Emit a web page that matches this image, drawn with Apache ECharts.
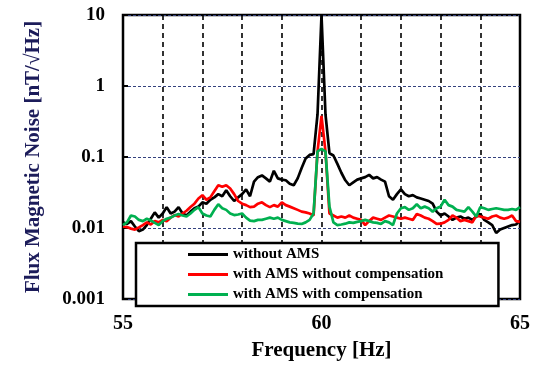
<!DOCTYPE html>
<html>
<head>
<meta charset="utf-8">
<script src="https://cdn.jsdelivr.net/npm/echarts@6/dist/echarts.min.js"></script>
<style>
  html, body { margin: 0; padding: 0; background: #fff; }
  #chart { width: 534px; height: 366px; }
</style>
</head>
<body>
<div id="chart"></div>
<script>
// frequency grid of the spectrum (Hz)
var freqStart = 55;
var freqStep = 0.1;

var seriesNames = ['without AMS', 'with AMS without compensation', 'with AMS with compensation'];
var seriesColors = ['#000000', '#ff0000', '#00b050'];

// nT/sqrt(Hz), one value per 0.1 Hz from 55 to 65
var withoutAms = [
  0.012, 0.0114, 0.0125, 0.0105, 0.009, 0.0095, 0.011, 0.0135, 0.0166, 0.014,
  0.016, 0.0197, 0.016, 0.017, 0.0197, 0.016, 0.015, 0.017, 0.019, 0.02,
  0.023, 0.022, 0.025, 0.027, 0.03, 0.028, 0.034, 0.028, 0.024, 0.027,
  0.03, 0.035, 0.028, 0.045, 0.052, 0.055, 0.05, 0.045, 0.064, 0.05,
  0.048, 0.047, 0.042, 0.04, 0.05, 0.07, 0.095, 0.107, 0.11, 0.4,
  10, 0.4, 0.113, 0.105, 0.08, 0.06, 0.047, 0.04, 0.044, 0.048,
  0.05, 0.052, 0.056, 0.05, 0.052, 0.048, 0.045, 0.028, 0.025, 0.03,
  0.035, 0.03, 0.028, 0.029, 0.027, 0.026, 0.025, 0.024, 0.022, 0.017,
  0.015, 0.016, 0.0145, 0.013, 0.014, 0.0145, 0.0135, 0.014, 0.013, 0.0145,
  0.0158, 0.013, 0.012, 0.011, 0.0085, 0.0095, 0.01, 0.0105, 0.011, 0.0112,
  0.0127
];
var withAmsNoComp = [
  0.0105, 0.0103, 0.0098, 0.0095, 0.0102, 0.011, 0.012, 0.0112, 0.0125, 0.012,
  0.013, 0.0125, 0.014, 0.0152, 0.0145, 0.016, 0.0175, 0.0197, 0.022, 0.026,
  0.029, 0.025, 0.027, 0.033, 0.04, 0.038, 0.04, 0.036, 0.03, 0.024,
  0.022, 0.021, 0.0197, 0.02, 0.022, 0.023, 0.021, 0.0197, 0.021, 0.02,
  0.023, 0.021, 0.02, 0.019, 0.018, 0.017, 0.0166, 0.016, 0.015, 0.12,
  0.38, 0.12, 0.016, 0.015, 0.014, 0.0145, 0.014, 0.015, 0.014, 0.0135,
  0.013, 0.011, 0.0125, 0.014, 0.0135, 0.013, 0.014, 0.015, 0.0145, 0.014,
  0.0135, 0.014, 0.0135, 0.013, 0.0158, 0.015, 0.014, 0.0135, 0.0125, 0.0114,
  0.0115, 0.012, 0.013, 0.015, 0.014, 0.0125, 0.013, 0.0125, 0.012, 0.015,
  0.0145, 0.014, 0.0135, 0.0145, 0.015, 0.014, 0.0135, 0.014, 0.015, 0.0125,
  0.0122
];
var withAmsComp = [
  0.011, 0.012, 0.015, 0.0145, 0.013, 0.0125, 0.0135, 0.0128, 0.0118, 0.011,
  0.0125, 0.0135, 0.014, 0.015, 0.0158, 0.015, 0.0145, 0.016, 0.018, 0.0197,
  0.016, 0.015, 0.0145, 0.018, 0.0216, 0.019, 0.018, 0.016, 0.0152, 0.0155,
  0.016, 0.014, 0.0127, 0.0125, 0.013, 0.013, 0.0135, 0.014, 0.0135, 0.014,
  0.013, 0.0125, 0.012, 0.0118, 0.0115, 0.0114, 0.012, 0.013, 0.016, 0.12,
  0.13, 0.12, 0.02, 0.012, 0.011, 0.0112, 0.0115, 0.012, 0.0118, 0.0122,
  0.0125, 0.013, 0.0125, 0.012, 0.0118, 0.0114, 0.0125, 0.012, 0.011, 0.016,
  0.019, 0.0197, 0.018, 0.019, 0.0216, 0.019, 0.02, 0.019, 0.017, 0.019,
  0.02, 0.025, 0.021, 0.02, 0.018, 0.0175, 0.017, 0.0197, 0.017, 0.0145,
  0.0197, 0.019, 0.018, 0.0185, 0.019, 0.0185, 0.018, 0.018, 0.0185, 0.018,
  0.0197
];

var xTickLabels = [55, 60, 65];
var yTickLabels = ['0.001', '0.01', '0.1', '1', '10'];

var serif = 'Liberation Serif';

function toPairs(values) {
  return values.map(function (v, i) {
    return [+(freqStart + i * freqStep).toFixed(1), v];
  });
}

var seriesData = [withoutAms, withAmsNoComp, withAmsComp];

var option = {
  animation: false,
  grid: {
    left: 123,
    right: 14,
    top: 15,
    bottom: 63,
    show: true,
    borderColor: '#000',
    borderWidth: 2.5,
    backgroundColor: '#fff'
  },
  legend: {
    orient: 'vertical',
    left: 136,
    top: 243,
    icon: 'rect',
    itemWidth: 40,
    itemHeight: 3,
    itemGap: 5,
    padding: [4, 55, 4, 52],
    backgroundColor: '#fff',
    borderColor: '#000',
    borderWidth: 2.5,
    data: seriesNames,
    textStyle: {
      fontFamily: serif,
      fontWeight: 'bold',
      fontSize: 15,
      lineHeight: 14,
      color: '#000'
    }
  },
  xAxis: {
    type: 'value',
    min: 55,
    max: 65,
    interval: 1,
    name: 'Frequency [Hz]',
    nameLocation: 'middle',
    nameGap: 41,
    nameTextStyle: {
      fontFamily: serif,
      fontWeight: 'bold',
      fontSize: 21,
      color: '#000'
    },
    axisLine: { show: false },
    axisTick: { show: true, inside: true, length: 5, lineStyle: { color: '#000', width: 1.5 } },
    axisLabel: {
      margin: 15,
      fontFamily: serif,
      fontWeight: 'bold',
      fontSize: 20,
      color: '#000',
      formatter: function (v) {
        return xTickLabels.indexOf(v) >= 0 ? String(v) : '';
      }
    },
    splitLine: {
      show: true,
      lineStyle: { color: '#000', width: 1.6, type: [5, 4] }
    }
  },
  yAxis: {
    type: 'log',
    logBase: 10,
    min: 0.001,
    max: 10,
    name: 'Flux Magnetic Noise [nT/\u221AHz]',
    nameLocation: 'middle',
    nameRotate: 90,
    nameGap: 79,
    nameTextStyle: {
      fontFamily: serif,
      fontWeight: 'bold',
      fontSize: 21,
      color: '#1c1c5a'
    },
    axisLine: { show: false },
    axisTick: { show: true, inside: true, length: 5, lineStyle: { color: '#000', width: 2 } },
    axisLabel: {
      margin: 18,
      fontFamily: serif,
      fontWeight: 'bold',
      fontSize: 19,
      color: '#000',
      formatter: function (v) {
        return yTickLabels[Math.round(Math.log10(v)) + 3];
      }
    },
    splitLine: {
      show: true,
      lineStyle: { color: '#34427e', width: 1.2, type: [3, 2] }
    }
  },
  series: seriesData.map(function (values, k) {
    return {
      name: seriesNames[k],
      type: 'line',
      data: toPairs(values),
      symbol: 'none',
      showSymbol: false,
      color: seriesColors[k],
      lineStyle: { color: seriesColors[k], width: 2.7 }
    };
  })
};

var chart = echarts.init(document.getElementById('chart'));
chart.setOption(option);
</script>
</body>
</html>
